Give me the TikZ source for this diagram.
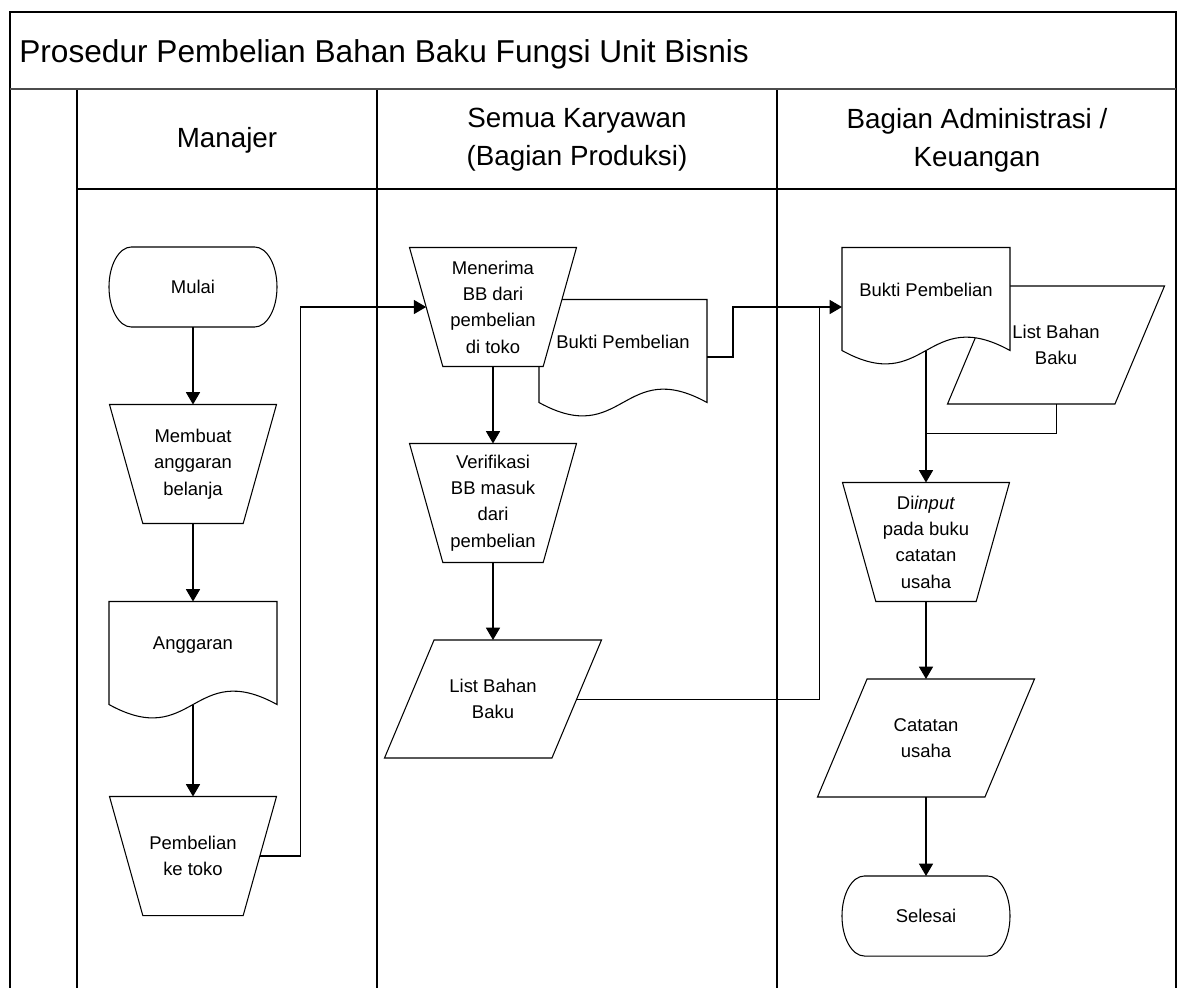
\documentclass[tikz,border=0pt]{standalone}
\usepackage{fontspec}
\setmainfont{Liberation Sans}
\usetikzlibrary{arrows.meta}

\newdimen\shL \newdimen\shR \newdimen\shT \newdimen\shB
\newdimen\shH \newdimen\shM \newdimen\shU \newdimen\shD
\newdimen\shLa \newdimen\shLk \newdimen\shRa \newdimen\shRk
\makeatletter
% size of the node box: \shL \shR \shT \shB, height \shH, middle \shM
\def\shgetbox{\southwest \shL=\pgf@x \shB=\pgf@y
  \northeast \shR=\pgf@x \shT=\pgf@y
  \shH=\shT \advance\shH by -\shB
  \shM=.5\shT \advance\shM by .5\shB}
\def\shbasics{%
  \inheritsavedanchors[from=rectangle]
  \inheritanchorborder[from=rectangle]
  \inheritanchor[from=rectangle]{center}
  \inheritanchor[from=rectangle]{north}
  \inheritanchor[from=rectangle]{south}
  \inheritanchor[from=rectangle]{text}
  \inheritanchor[from=rectangle]{base}
  \inheritanchor[from=rectangle]{mid}}
% document with a wavy bottom
\pgfdeclareshape{docpage}{
  \shbasics
  \inheritanchor[from=rectangle]{east}
  \inheritanchor[from=rectangle]{west}
  \backgroundpath{%
    \shgetbox
    \shLa=.5\shL \advance\shLa by .5\shR
    \shU=\shB \advance\shU by .45\shH
    \shD=\shB \advance\shD by -.45\shH
    \pgfpathmoveto{\pgfqpoint{\shL}{\shT}}%
    \pgfpathlineto{\pgfqpoint{\shR}{\shT}}%
    \pgfpathlineto{\pgfqpoint{\shR}{\shB}}%
    \pgfpathcurveto{\pgfqpoint{\shLa}{\shU}}{\pgfqpoint{\shLa}{\shD}}{\pgfqpoint{\shL}{\shB}}%
    \pgfpathclose}
}
% manual operation, wide top
\pgfdeclareshape{manualop}{
  \shbasics
  \anchor{east}{\shgetbox \pgf@x=\shR \advance\pgf@x by -.14\shH \pgf@y=\shM}
  \anchor{west}{\shgetbox \pgf@x=\shL \advance\pgf@x by .14\shH \pgf@y=\shM}
  \backgroundpath{%
    \shgetbox
    \pgfpathmoveto{\pgfqpoint{\shL}{\shT}}%
    \pgfpathlineto{\pgfqpoint{\shR}{\shT}}%
    \advance\shR by -.28\shH \advance\shL by .28\shH
    \pgfpathlineto{\pgfqpoint{\shR}{\shB}}%
    \pgfpathlineto{\pgfqpoint{\shL}{\shB}}%
    \pgfpathclose}
}
% data, parallelogram
\pgfdeclareshape{iodata}{
  \shbasics
  \anchor{east}{\shgetbox \pgf@x=\shR \advance\pgf@x by -.21\shH \pgf@y=\shM}
  \anchor{west}{\shgetbox \pgf@x=\shL \advance\pgf@x by .21\shH \pgf@y=\shM}
  \backgroundpath{%
    \shgetbox
    \shLa=\shL \advance\shLa by .42\shH
    \shRa=\shR \advance\shRa by -.42\shH
    \pgfpathmoveto{\pgfqpoint{\shLa}{\shT}}%
    \pgfpathlineto{\pgfqpoint{\shR}{\shT}}%
    \pgfpathlineto{\pgfqpoint{\shRa}{\shB}}%
    \pgfpathlineto{\pgfqpoint{\shL}{\shB}}%
    \pgfpathclose}
}
% terminator with elliptic ends
\pgfdeclareshape{termshape}{
  \shbasics
  \inheritanchor[from=rectangle]{east}
  \inheritanchor[from=rectangle]{west}
  \backgroundpath{%
    \shgetbox
    \shLa=\shL \advance\shLa by .28\shH
    \shLk=\shLa \advance\shLk by -.1546\shH
    \shRa=\shR \advance\shRa by -.28\shH
    \shRk=\shRa \advance\shRk by .1546\shH
    \shU=\shM \advance\shU by .2762\shH
    \shD=\shM \advance\shD by -.2762\shH
    \pgfpathmoveto{\pgfqpoint{\shLa}{\shT}}%
    \pgfpathlineto{\pgfqpoint{\shRa}{\shT}}%
    \pgfpathcurveto{\pgfqpoint{\shRk}{\shT}}{\pgfqpoint{\shR}{\shU}}{\pgfqpoint{\shR}{\shM}}%
    \pgfpathcurveto{\pgfqpoint{\shR}{\shD}}{\pgfqpoint{\shRk}{\shB}}{\pgfqpoint{\shRa}{\shB}}%
    \pgfpathlineto{\pgfqpoint{\shLa}{\shB}}%
    \pgfpathcurveto{\pgfqpoint{\shLk}{\shB}}{\pgfqpoint{\shL}{\shD}}{\pgfqpoint{\shL}{\shM}}%
    \pgfpathcurveto{\pgfqpoint{\shL}{\shU}}{\pgfqpoint{\shLk}{\shT}}{\pgfqpoint{\shLa}{\shT}}%
    \pgfpathclose}
}
\makeatother

\tikzset{
  box/.style={draw,fill=white,line width=.6pt,font=\fontsize{10.5}{15}\selectfont,align=center,inner sep=0pt},
  manual/.style={box,shape=manualop,minimum width=3.32cm,minimum height=2.36cm},
  data/.style={box,shape=iodata,minimum width=4.32cm,minimum height=2.34cm},
  term/.style={box,shape=termshape,minimum width=3.34cm,minimum height=1.58cm},
  doc/.style={box,shape=docpage,text depth=11pt,minimum width=3.34cm,minimum height=2.04cm},
  arr/.style={-{Triangle[length=7pt,width=8pt]},line width=.6pt},
  lane/.style={font=\fontsize{15.8}{21.5}\selectfont,align=center}
}

\begin{document}
\begin{tikzpicture}[x=.02cm,y=-.02cm]
 \useasboundingbox (0,0) rectangle (1181,988);
 % frame and lanes
 \draw[line width=.8pt] (10,988) -- (10,12) -- (1176,12) -- (1176,988);
 \draw[line width=1.4pt,gray!60!black] (10,89) -- (1176,89);
 \draw[line width=.8pt] (77,90) -- (77,988) (377,90) -- (377,988) (777,90) -- (777,988) (77,189) -- (1176,189);
 \node[anchor=base west,font=\fontsize{18}{22}\selectfont,inner sep=0pt] (judul) at (19,62) {Prosedur Pembelian Bahan Baku Fungsi Unit Bisnis};
 \node[lane] (hmanajer) at (227,140) {Manajer};
 \node[lane] (hproduksi) at (577,140) {Semua Karyawan\\(Bagian Produksi)};
 \node[lane] (hadmin) at (977,140) {Bagian Administrasi /\\Keuangan};

 % manajer
 \node[term] (mulai) at (193,287) {Mulai};
 \node[manual] (buat) at (193,464) {Membuat\\anggaran\\belanja};
 \node[doc] (ang) at (193,653) {Anggaran};
 \node[manual] (beli) at (193,856) {Pembelian\\ke toko};

 % bagian produksi
 \node[doc] (bukti1) at (623,351) {Bukti Pembelian};
 \node[manual] (terima) at (493,307) {Menerima\\BB dari\\pembelian\\di toko};
 \node[manual] (verif) at (493,503) {Verifikasi\\BB masuk\\dari\\pembelian};
 \node[data] (list1) at (493,699) {List Bahan\\Baku};

 % administrasi / keuangan
 \node[data] (list2) at (1056,345) {List Bahan\\Baku};
 \node[doc] (bukti2) at (926,299) {Bukti Pembelian};
 \node[manual] (input) at (926,542) {Di\textit{input}\\pada buku\\catatan\\usaha};
 \node[data] (catat) at (926,738) {Catatan\\usaha};
 \node[term] (selesai) at (926,916) {Selesai};

 \coordinate (j1) at (819,307);
 \coordinate (j2) at (926,433);

 \draw[arr] (mulai.south) -- (buat.north);
 \draw[arr] (buat.south) -- (ang.north);
 \draw[arr] (ang.south) -- (beli.north);
 \draw[arr] (beli.east) -- ++(41,0) |- (terima.west);
 \draw[arr] (terima.south) -- (verif.north);
 \draw[arr] (verif.south) -- (list1.north);
 \draw (list1.east) -| (j1);
 \draw[arr] ([yshift=-3.4pt]bukti1.east) -- ++(26,0) |- (bukti2.west |- terima.west);
 \draw (list2.south) |- (j2);
 \draw[arr] (bukti2.south) -- (input.north);
 \draw[arr] (input.south) -- (catat.north);
 \draw[arr] (catat.south) -- (selesai.north);
\end{tikzpicture}
\end{document}
